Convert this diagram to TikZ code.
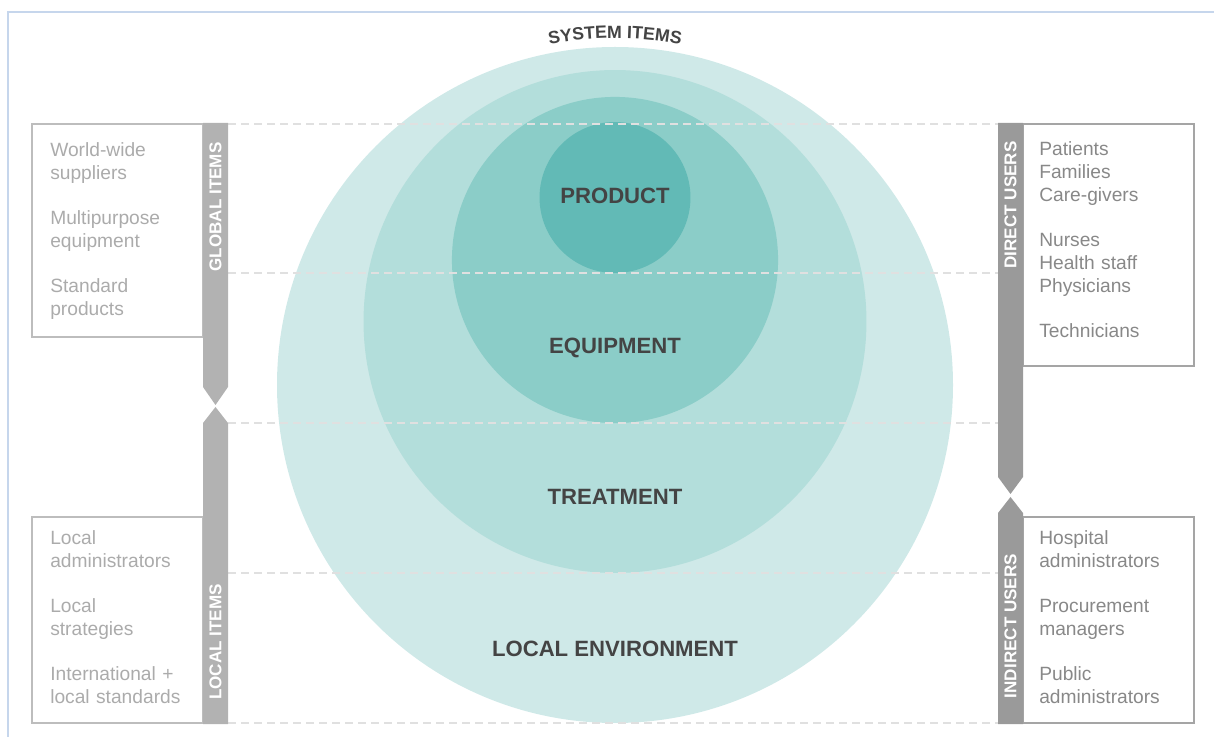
\documentclass[tikz,border=0pt]{standalone}
\usepackage{fontspec}
\setmainfont{Liberation Sans}
\usetikzlibrary{decorations.text}
\definecolor{ringA}{HTML}{CFE9E8}
\definecolor{ringB}{HTML}{B3DEDB}
\definecolor{ringC}{HTML}{8BCDC8}
\definecolor{ringD}{HTML}{62BAB6}
\definecolor{labelgray}{HTML}{444444}
\definecolor{leftbar}{HTML}{B2B2B2}
\definecolor{rightbar}{HTML}{9A9A9A}
\definecolor{leftbox}{HTML}{BDBDBD}
\definecolor{rightbox}{HTML}{A5A5A5}
\definecolor{lefttxt}{HTML}{ABABAB}
\definecolor{righttxt}{HTML}{888888}
\definecolor{dashgray}{HTML}{E0E0E0}
\definecolor{framebl}{HTML}{C6D6EC}
\tikzset{
  ringlbl/.style={text=labelgray, font=\bfseries\fontsize{16.6}{19}\selectfont, inner sep=0pt},
  barlbl/.style={rotate=90, text=white, font=\bfseries\fontsize{12.8}{15}\selectfont, inner sep=0pt},
  itemtxt/.style={anchor=base west, align=left, text width=150pt, inner sep=0pt, font=\fontsize{14.4}{17.25}\selectfont},
  panelbox/.style={line width=1.8pt},
  dashln/.style={dashgray, line width=1.5pt, dash pattern=on 6pt off 3.75pt},
}
\begin{document}
\begin{tikzpicture}[x=0.75pt,y=-0.75pt]
\useasboundingbox (0,0) rectangle (1214,737);
% frame
\draw[framebl, line width=1.5pt] (8,737) -- (8,12) -- (1214,12);
% circles
\coordinate (cA) at (615,385);
\coordinate (cB) at (615,321.5);
\coordinate (cC) at (615,260);
\coordinate (cD) at (615,197.5);
\fill[ringA] (cA) circle[radius=253.5pt];
\fill[ringB] (cB) circle[radius=188.6pt];
\fill[ringC] (cC) circle[radius=122.3pt];
\fill[ringD] (cD) circle[radius=56.6pt];
% dashed guide lines
\foreach \yy/\nm in {124/a,273/b,423/c,573/d,723/e}{
  \coordinate (dl\nm) at (228,\yy);
  \coordinate (dr\nm) at (998,\yy);
  \draw[dashln] (dl\nm) -- (dr\nm);
}
% system items
\path[decorate, decoration={text along path, text align=center,
  text={|\bfseries\fontsize{13.3}{15}\selectfont\color{labelgray}|SYSTEM ITEMS}}]
  ([shift={(120:260pt)}]cA) arc[start angle=120, end angle=60, radius=260pt];
% ring labels
\node[ringlbl] (prod) at (615,196) {PRODUCT};
\node[ringlbl] (equip) at (615,348) {EQUIPMENT};
\node[ringlbl] (treat) at (615,497) {TREATMENT};
\node[ringlbl] (env) at (615,649) {LOCAL ENVIRONMENT};
% left panels
\draw[panelbox, leftbox] (32,124) rectangle (203,337);
\draw[panelbox, leftbox] (32,517) rectangle (203,723);
\fill[leftbar] (203,123) -- (228,123) -- (228,387) -- (215.5,405) -- (203,387) -- cycle;
\fill[leftbar] (215.5,407) -- (228,423) -- (228,724) -- (203,724) -- (203,423) -- cycle;
\node[barlbl] (glob) at (215.5,207) {GLOBAL ITEMS};
\node[barlbl] (loc) at (215.5,642) {LOCAL ITEMS};
\node[itemtxt, text=lefttxt] (gl) at (50,157) {World-wide\\suppliers\\[16.5pt]Multipurpose\\equipment\\[16.5pt]Standard\\products};
\node[itemtxt, text=lefttxt] (ll) at (50,545) {Local\\administrators\\[16.5pt]Local\\strategies\\[16.5pt]International +\\local standards};
% right panels
\draw[panelbox, rightbox] (1023,124) rectangle (1194,366);
\draw[panelbox, rightbox] (1023,517) rectangle (1194,723);
\fill[rightbar] (998,123) -- (1023,123) -- (1023,477) -- (1010.5,494) -- (998,477) -- cycle;
\fill[rightbar] (1010.5,497) -- (1023,513) -- (1023,724) -- (998,724) -- (998,513) -- cycle;
\node[barlbl] (dir) at (1010.5,205) {DIRECT USERS};
\node[barlbl] (ind) at (1010.5,626) {INDIRECT USERS};
\node[itemtxt, text=righttxt] (du) at (1039,156) {Patients\\Families\\Care-givers\\[16.5pt]Nurses\\Health staff\\Physicians\\[16.5pt]Technicians};
\node[itemtxt, text=righttxt] (iu) at (1039,545) {Hospital\\administrators\\[16.5pt]Procurement\\managers\\[16.5pt]Public\\administrators};
\end{tikzpicture}
\end{document}
